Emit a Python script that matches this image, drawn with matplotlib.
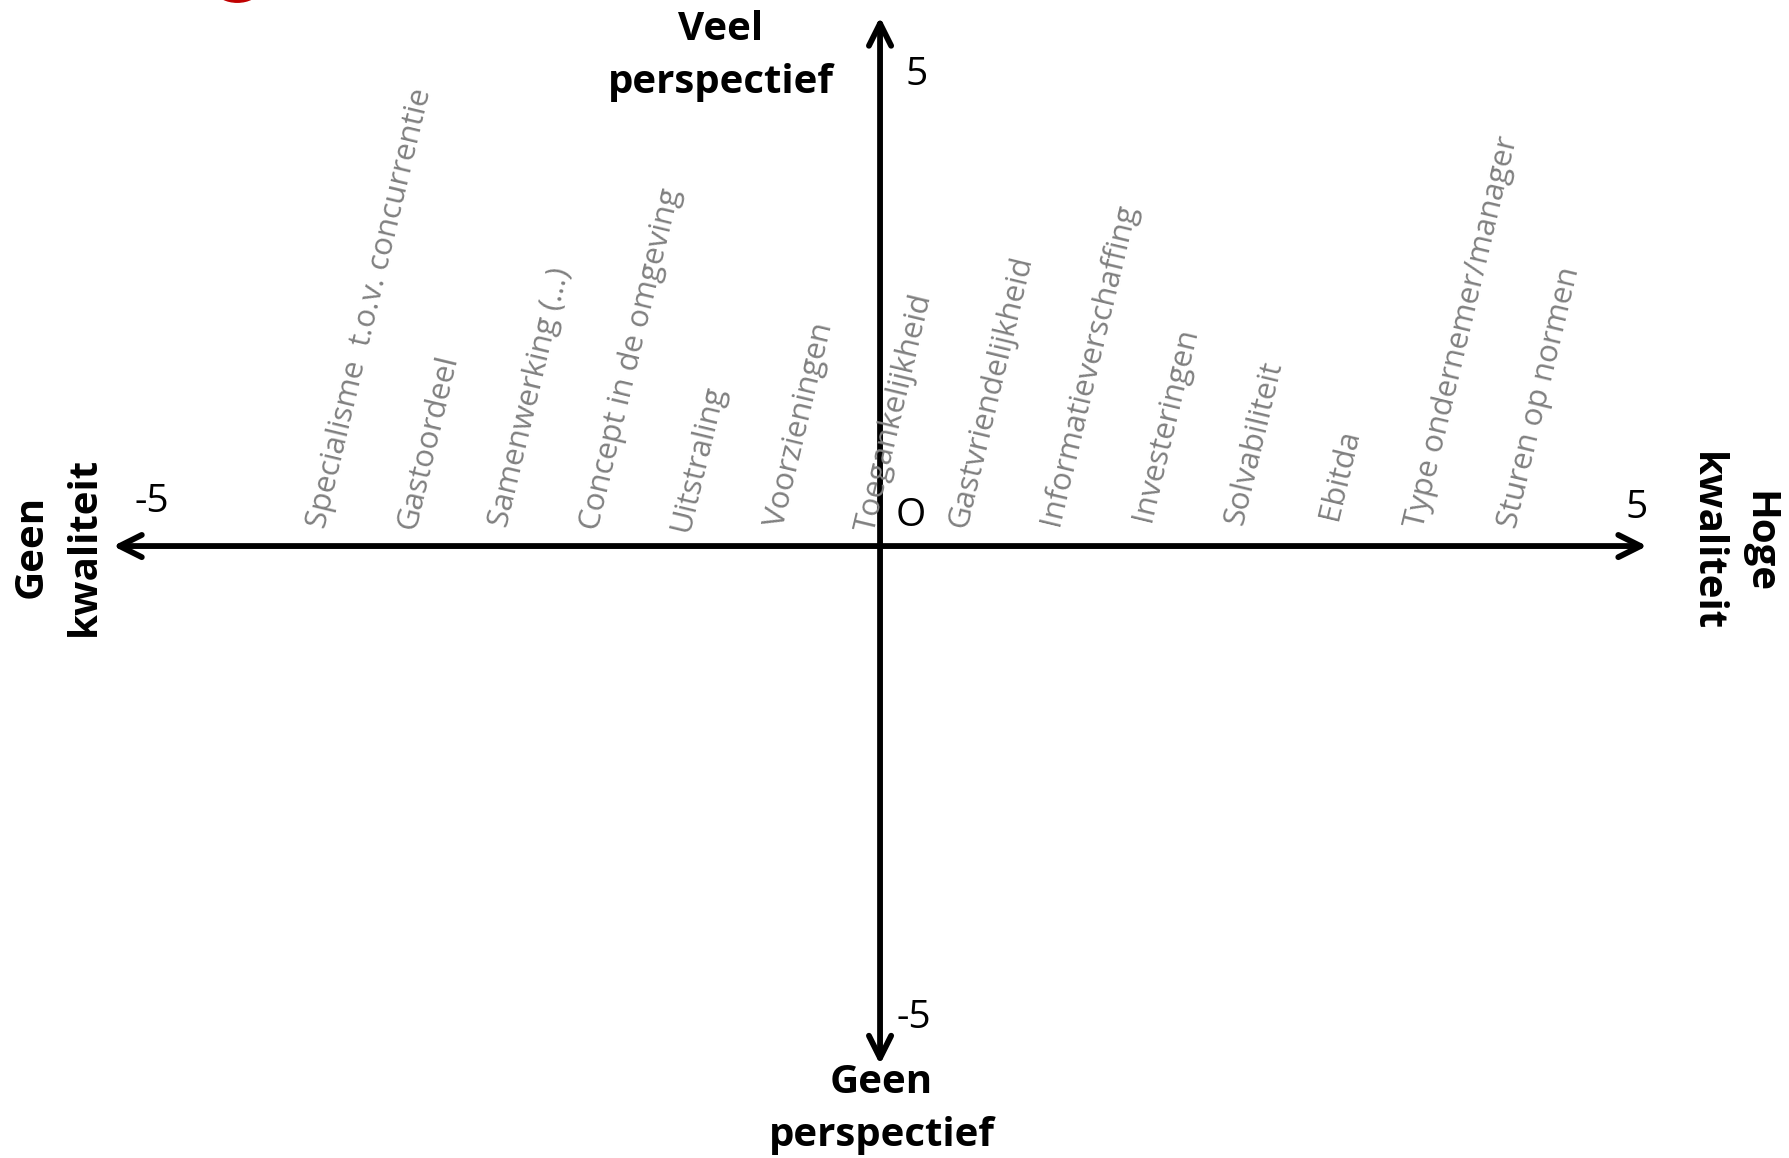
import matplotlib
matplotlib.use("Agg")
import matplotlib.pyplot as plt
from matplotlib.patches import Ellipse

# category labels along the quality axis (x position of the label foot, y of baseline)
categories = ["Specialisme  t.o.v. concurrentie", "Gastoordeel", "Samenwerking (...)",
              "Concept in de omgeving", "Uitstraling", "Voorzieningen", "Toegankelijkheid",
              "Gastvriendelijkheid", "Informatieverschaffing", "Investeringen",
              "Solvabiliteit", "Ebitda", "Type ondernemer/manager", "Sturen op normen"]
cat_x = [-3.62, -3.03, -2.43, -1.84, -1.25, -0.63, -0.04,
         0.56, 1.16, 1.76, 2.36, 2.98, 3.54, 4.15]
cat_y = [0.16, 0.14, 0.17, 0.14, 0.12, 0.17, 0.12,
         0.16, 0.19, 0.22, 0.19, 0.24, 0.16, 0.16]

x_min, x_max = -5, 5
y_min, y_max = -4.9, 5
tick_text = ["-5", "5", "5", "-5", "O"]

plt.rcParams['font.family'] = ['Open Sans', 'DejaVu Sans']

fig = plt.figure(figsize=(17.9, 11.58), dpi=100)
ax = fig.add_axes([0, 0, 1, 1])
ax.set_xlim(-5.737, 5.932)
ax.set_ylim(-5.784, 5.161)
ax.axis('off')

arrow = dict(arrowstyle='<->,head_length=0.8,head_width=0.4', lw=4.2, color='black',
             shrinkA=0, shrinkB=0, mutation_scale=20)
ax.annotate('', xy=(x_max, 0), xytext=(x_min, 0), arrowprops=arrow)
ax.annotate('', xy=(0, y_max), xytext=(0, y_min), arrowprops=arrow)

for name, x, y in zip(categories, cat_x, cat_y):
    ax.text(x, y, name, rotation=76.5, rotation_mode='anchor', ha='left', va='baseline',
            fontsize=22.5, color='#808080')

# tick numbers
ax.text(-4.75, 0.42, tick_text[0], fontsize=28, ha='center', va='center')
ax.text(4.93, 0.36, tick_text[1], fontsize=28, ha='center', va='center')
ax.text(0.24, 4.45, tick_text[2], fontsize=28, ha='center', va='center')
ax.text(0.22, -4.46, tick_text[3], fontsize=28, ha='center', va='center')
ax.text(0.20, 0.28, tick_text[4], fontsize=28, ha='center', va='center')

# axis titles
ax.text(-1.04, 4.63, "Veel\nperspectief", fontsize=29, fontweight='bold', ha='center',
        va='center', linespacing=1.45)
ax.text(0.01, -5.32, "Geen\nperspectief", fontsize=29, fontweight='bold', ha='center',
        va='center', linespacing=1.45)
ax.text(-5.36, 0.0, "Geen\nkwaliteit", fontsize=29, fontweight='bold', ha='center',
        va='center', rotation=90, linespacing=1.45)
ax.text(5.56, 0.04, "Hoge\nkwaliteit", fontsize=29, fontweight='bold', ha='center',
        va='center', rotation=-90, linespacing=1.45)

# cut-off red mark at the top edge
ax.add_patch(Ellipse((-4.19, 5.25), 0.27, 0.22, color='#c00000', clip_on=False))

fig.savefig("out.png", dpi=100)
